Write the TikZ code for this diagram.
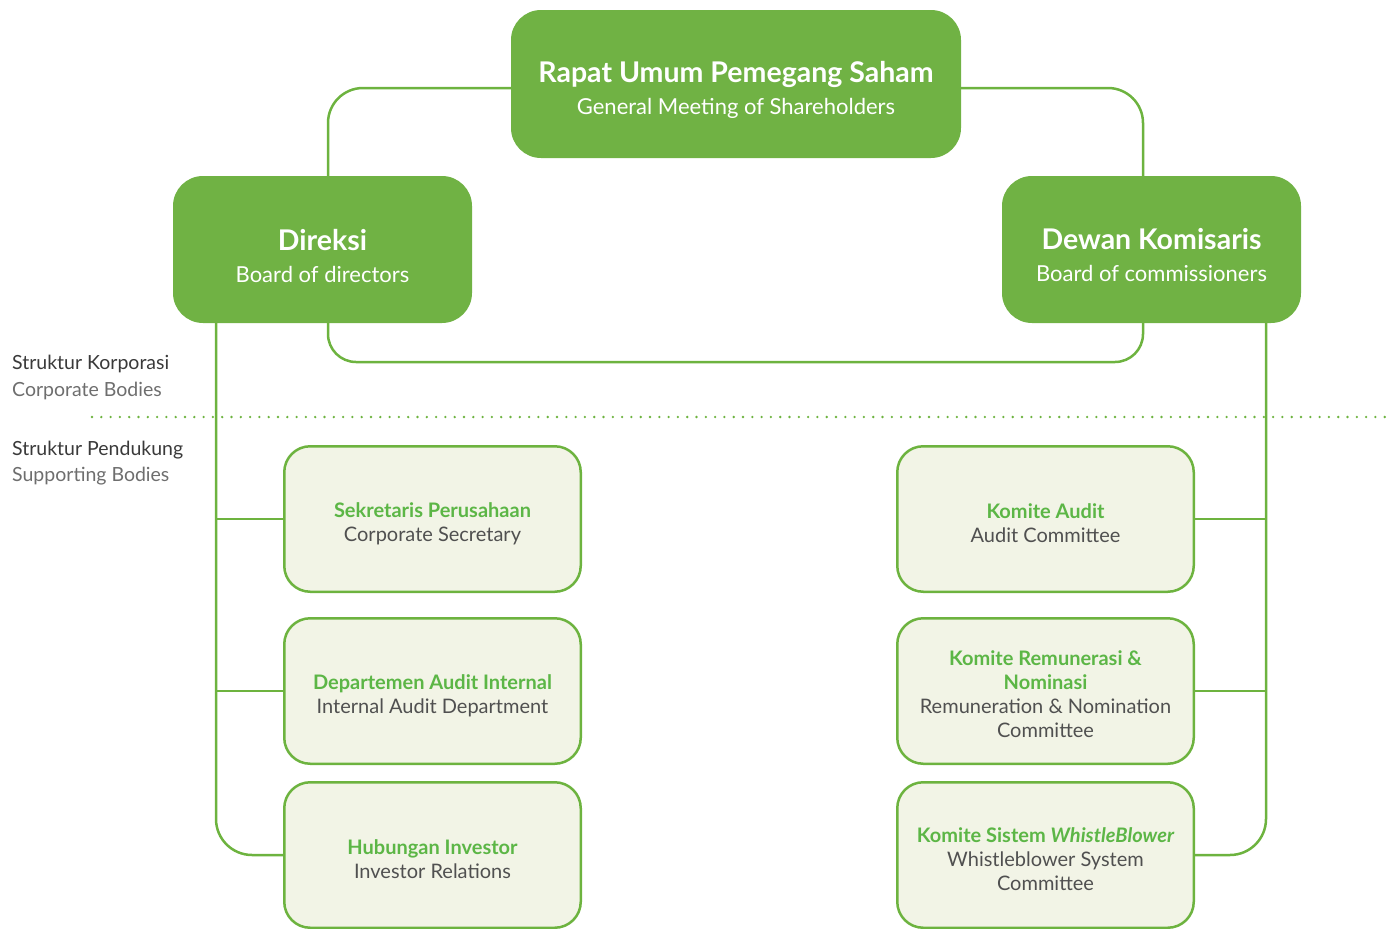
\documentclass[tikz,border=0pt]{standalone}
\usepackage{fontspec}
\setmainfont{Lato}
\usetikzlibrary{calc}
\definecolor{gfill}{HTML}{70B244}
\definecolor{gline}{HTML}{6DB33F}
\definecolor{lfill}{HTML}{F2F4E6}
\definecolor{gtitle}{HTML}{5CB646}
\definecolor{gsub}{HTML}{505050}
\definecolor{labdark}{HTML}{3A3A3A}
\definecolor{lablight}{HTML}{6E6E6E}
\begin{document}
\begin{tikzpicture}[x=1pt,y=-1pt,
  bigbox/.style={rounded corners=30pt, fill=gfill, draw=none, minimum width=450pt,
    minimum height=148pt, inner sep=0pt},
  midbox/.style={bigbox, minimum width=299pt, minimum height=147pt},
  bigtext/.style={text=white, align=center, inner sep=0pt,
    font=\fontsize{22}{32}\selectfont},
  smallbox/.style={rounded corners=26pt, fill=lfill, draw=gline, line width=2.5pt,
    minimum width=296.5pt, minimum height=145.5pt, inner sep=0pt},
  smalltext/.style={text=gsub, align=center, inner sep=0pt,
    font=\fontsize{20}{24}\selectfont},
  conn/.style={draw=gline, line width=2.5pt},
  lab/.style={anchor=west, inner sep=0pt, font=\fontsize{19.5}{27}\selectfont, align=left}
]
\useasboundingbox (0,0) rectangle (1390,929);

% main boxes
\node[bigbox] (rups) at (736,84) {};
\node[midbox] (dir) at (322.5,249.5) {};
\node[midbox] (dew) at (1151.5,249.5) {};
\node[bigtext] (rupsT) at ([yshift=-6pt]rups.center) {{\fontsize{28.5}{32}\selectfont\bfseries Rapat Umum Pemegang Saham}\\General Meeting of Shareholders};
\node[bigtext] (dirT) at ([yshift=-6pt]dir.center) {{\fontsize{28.5}{32}\selectfont\bfseries Direksi}\\Board of directors};
\node[bigtext] (dewT) at ([yshift=-6pt]dew.center) {{\fontsize{28.5}{32}\selectfont\bfseries Dewan Komisaris}\\Board of commissioners};

% supporting boxes
\node[smallbox] (sek) at (432.5,519) {};
\node[smallbox] (dai) at (432.5,691) {};
\node[smallbox] (hub) at (432.5,855) {};
\node[smallbox] (kau) at (1045.5,519) {};
\node[smallbox] (krn) at (1045.5,691) {};
\node[smallbox] (kws) at (1045.5,855) {};
\node[smalltext] (sekT) at ([yshift=-5pt]sek.center) {\textcolor{gtitle}{\bfseries Sekretaris Perusahaan}\\Corporate Secretary};
\node[smalltext] (daiT) at ([yshift=-5pt]dai.center) {\textcolor{gtitle}{\bfseries Departemen Audit Internal}\\Internal Audit Department};
\node[smalltext] (hubT) at ([yshift=-4pt]hub.center) {\textcolor{gtitle}{\bfseries Hubungan Investor}\\Investor Relations};
\node[smalltext] (kauT) at ([yshift=-4pt]kau.center) {\textcolor{gtitle}{\bfseries Komite Audit}\\Audit Committee};
\node[smalltext] (krnT) at ([yshift=-3pt]krn.center) {\textcolor{gtitle}{\bfseries Komite Remunerasi \&}\\\textcolor{gtitle}{\bfseries Nominasi}\\Remuneration \& Nomination\\Committee};
\node[smalltext] (kwsT) at ([yshift=-4pt]kws.center) {\textcolor{gtitle}{\bfseries Komite Sistem \itshape WhistleBlower}\\Whistleblower System\\Committee};

% labels
\node[lab, text=labdark] (l1) at (12,364) {Struktur Korporasi};
\node[lab, text=lablight] (l2) at (12,391) {Corporate Bodies};
\node[lab, text=labdark] (l3) at (12,450) {Struktur Pendukung};
\node[lab, text=lablight] (l4) at (12,476) {Supporting Bodies};

% dotted separator
\coordinate (dotA) at (92,417);
\coordinate (dotB) at (1390,417);
\draw[gline, line width=2.6pt, line cap=round, dash pattern=on 0pt off 9.3pt] (dotA) -- (dotB);

% connectors top
\draw[conn, rounded corners=35pt] ([yshift=-4pt]rups.west) -| ([xshift=5.5pt]dir.north);
\draw[conn, rounded corners=35pt] ([yshift=-4pt]rups.east) -| ([xshift=-8.5pt]dew.north);
\coordinate (loopL) at (328,362);
\draw[conn, rounded corners=28pt] ([xshift=5.5pt]dir.south) -- (loopL) -| ([xshift=-8.5pt]dew.south);

% left trunk
\coordinate (lt) at (216,323);
\draw[conn, rounded corners=36pt] (lt) |- (hub.west);
\draw[conn] (sek.west) -- (sek.west -| lt);
\draw[conn] (dai.west) -- (dai.west -| lt);

% right trunk
\coordinate (rt) at (1266,323);
\draw[conn, rounded corners=36pt] (rt) |- (kws.east);
\draw[conn] (kau.east) -- (kau.east -| rt);
\draw[conn] (krn.east) -- (krn.east -| rt);
\end{tikzpicture}
\end{document}
